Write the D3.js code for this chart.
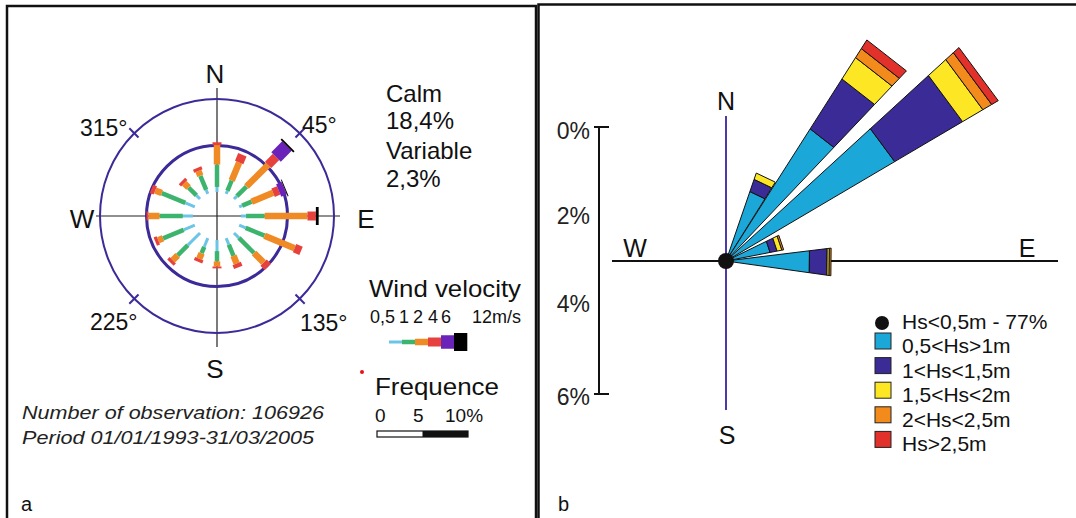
<!DOCTYPE html>
<html><head><meta charset="utf-8">
<script src="https://cdn.jsdelivr.net/npm/d3@7"></script>
<style>
html,body{margin:0;padding:0;background:#fff;}
svg{display:block;font-family:"Liberation Sans",Arial,sans-serif;}
</style></head><body>
<svg id="chart" width="1076" height="518"></svg>
<script>
// ---------- Panel a: wind rose (frequency % per speed class, 16 directions) ----------
const windDirections = [0, 22.5, 45, 67.5, 90, 112.5, 135, 157.5, 180, 202.5, 225, 247.5, 270, 292.5, 315, 337.5];
const wind05to1 = [0.55, 0.35, 0.45, 0.35, 0.55, 0.75, 0.75, 0.75, 1.20, 1.00, 1.85, 1.30, 1.10, 1.10, 0.55, 0.45];
const wind1to2  = [2.40, 1.20, 1.45, 1.10, 2.00, 2.20, 2.30, 1.30, 1.10, 0.75, 1.55, 2.40, 2.50, 2.75, 1.20, 1.65];
const wind2to4  = [2.10, 2.10, 3.30, 2.50, 4.60, 3.50, 1.45, 0.90, 0.55, 0.65, 0.75, 0.55, 1.20, 0.75, 0.65, 0.55];
const wind4to6  = [0.30, 0.90, 1.20, 0.65, 0.90, 0.75, 0.65, 0.45, 0.20, 0.35, 0.35, 0.35, 0.20, 0.45, 0.35, 0.35];
const wind6to12 = [0, 0, 1.65, 0.65, 0, 0, 0, 0, 0, 0, 0, 0, 0, 0, 0, 0];
const wind12up  = [0, 0, 0.20, 0.10, 0.30, 0, 0, 0, 0, 0, 0, 0, 0, 0, 0, 0];
const speedTickLabels = ["0,5", "1", "2", "4", "6", "12m/s"];
const compassLabels = ["N", "E", "S", "W"];
const degreeLabels = ["45°", "135°", "225°", "315°"];
const freqTickLabels = ["0", "5", "10%"];
const calmLines = ["Calm", "18,4%", "Variable", "2,3%"];
const noteLines = ["Number of observation: 106926", "Period 01/01/1993-31/03/2005"];

// ---------- Panel b: wave rose (frequency % per Hs class) ----------
const petalFrom = [19, 32.5, 47.5, 64, 83];     // sector start bearing (deg)
const petalTo   = [32, 43.5, 59.5, 79, 98];     // sector end bearing (deg)
const hs05to1   = [1.65, 3.52, 4.40, 1.01, 1.89];
const hs1to15   = [0.29, 1.33, 1.77, 0.16, 0.40];
const hs15to2   = [0.15, 0.57, 0.53, 0.11, 0.05];
const hs2to25   = [0.00, 0.24, 0.23, 0.04, 0.04];
const hsAbove25 = [0.00, 0.23, 0.17, 0.00, 0.00];
const hsLegend = ["Hs<0,5m - 77%", "0,5<Hs>1m", "1<Hs<1,5m", "1,5<Hs<2m", "2<Hs<2,5m", "Hs>2,5m"];
const pctTicks = [0, 2, 4, 6];

const svg = d3.select("#chart");
const rad = d => d * Math.PI / 180;

// panel frames
svg.append("rect").attr("x", 7).attr("y", 6).attr("width", 529).attr("height", 530)
  .attr("fill", "none").attr("stroke", "#111").attr("stroke-width", 2.5);
svg.append("rect").attr("x", 538.5).attr("y", 4.5).attr("width", 560).attr("height", 530)
  .attr("fill", "none").attr("stroke", "#111").attr("stroke-width", 2.5);

// ===== Panel a =====
const speedSeries = [wind05to1, wind1to2, wind2to4, wind4to6, wind6to12, wind12up];
const speedColors = ["#6cc5e6", "#3cb46e", "#f08a24", "#e6413c", "#6b22b8", "#000000"];
const speedWidth = d3.scaleOrdinal().domain(d3.range(6)).range([3, 4.5, 6.5, 9, 13.5, 18]);
const rA = d3.scaleLinear().domain([0, 10]).range([24, 117]);
const ga = svg.append("g").attr("transform", "translate(217,216)");
const indigo = "#3b2a98";

// cross hair
ga.append("line").attr("x1", 0).attr("x2", 0).attr("y1", -128).attr("y2", 131).attr("stroke", "#222").attr("stroke-width", 1.2);
ga.append("line").attr("x1", -121).attr("x2", 123).attr("y1", 0).attr("y2", 0).attr("stroke", "#222").attr("stroke-width", 1.2);
// 5% and 10% rings
ga.append("circle").attr("r", rA(5)).attr("fill", "none").attr("stroke", indigo).attr("stroke-width", 3);
ga.append("circle").attr("r", rA(10)).attr("fill", "none").attr("stroke", indigo).attr("stroke-width", 2);
[45, 135, 225, 315].forEach(a => {
  const p0 = d3.pointRadial(rad(a), rA(10) - 6), p1 = d3.pointRadial(rad(a), rA(10) + 7);
  ga.append("line").attr("x1", p0[0]).attr("y1", p0[1]).attr("x2", p1[0]).attr("y2", p1[1])
    .attr("stroke", indigo).attr("stroke-width", 2);
});

// stacked speed bars
windDirections.forEach((dir, i) => {
  let cum = 0;
  speedSeries.forEach((s, k) => {
    const v = s[i];
    if (v <= 0) return;
    const p0 = d3.pointRadial(rad(dir), rA(cum)), p1 = d3.pointRadial(rad(dir), rA(cum + v));
    ga.append("line").attr("x1", p0[0]).attr("y1", p0[1]).attr("x2", p1[0]).attr("y2", p1[1])
      .attr("stroke", speedColors[k]).attr("stroke-width", speedWidth(k)).attr("stroke-linecap", "butt");
    cum += v;
  });
});

// compass letters
const compassPos = {N: [215, 83], E: [366, 228], S: [215, 378], W: [82, 228]};
compassLabels.forEach(c => {
  svg.append("text").attr("x", compassPos[c][0]).attr("y", compassPos[c][1]).attr("text-anchor", "middle")
    .attr("font-size", 26).attr("fill", "#111").text(c);
});
const degPos = {"45°": [302, 133], "135°": [300, 331], "225°": [90, 330], "315°": [80, 136]};
degreeLabels.forEach(t => {
  svg.append("text").attr("x", degPos[t][0]).attr("y", degPos[t][1]).attr("font-size", 23).attr("fill", "#111").text(t);
});
calmLines.forEach((t, i) => {
  svg.append("text").attr("x", 386).attr("y", [102, 129, 159, 187][i]).attr("font-size", 24).attr("fill", "#111").text(t);
});

// wind velocity legend
svg.append("text").attr("x", 369).attr("y", 297).attr("font-size", 24).attr("textLength", 152)
  .attr("lengthAdjust", "spacingAndGlyphs").attr("fill", "#111").text("Wind velocity");
[370, 399, 413, 428, 441, 472].forEach((x, i) => {
  svg.append("text").attr("x", x).attr("y", 323).attr("font-size", 18).attr("fill", "#111").text(speedTickLabels[i]);
});
const legX = d3.scaleBand().domain(d3.range(6)).range([389, 467]);
speedColors.forEach((c, k) => {
  svg.append("rect").attr("x", legX(k)).attr("width", legX.bandwidth() + 0.3)
    .attr("y", 342 - speedWidth(k) / 2).attr("height", speedWidth(k)).attr("fill", c);
});
svg.append("circle").attr("cx", 362).attr("cy", 372).attr("r", 2).attr("fill", "#e8101a");

// frequency scale legend
svg.append("text").attr("x", 375).attr("y", 395).attr("font-size", 24).attr("textLength", 124)
  .attr("lengthAdjust", "spacingAndGlyphs").attr("fill", "#111").text("Frequence");
const fScale = d3.scaleLinear().domain([0, 10]).range([377, 468]);
[375, 413, 445].forEach((x, i) => {
  svg.append("text").attr("x", x).attr("y", 422).attr("font-size", 19).attr("fill", "#111").text(freqTickLabels[i]);
});
svg.append("rect").attr("x", fScale(0)).attr("y", 431).attr("width", fScale(10) - fScale(0)).attr("height", 6)
  .attr("fill", "#fff").attr("stroke", "#111").attr("stroke-width", 1.2);
svg.append("rect").attr("x", fScale(5)).attr("y", 431).attr("width", fScale(10) - fScale(5)).attr("height", 6).attr("fill", "#111");

noteLines.forEach((t, i) => {
  svg.append("text").attr("x", 22).attr("y", [419, 444][i]).attr("font-size", 19).attr("font-style", "italic")
    .attr("textLength", [302, 292][i]).attr("lengthAdjust", "spacingAndGlyphs").attr("fill", "#222").text(t);
});
svg.append("text").attr("x", 21).attr("y", 511).attr("font-size", 20).attr("fill", "#111").text("a");

// ===== Panel b =====
const cx = 726, cy = 261;
const rB = d3.scaleLinear().domain([0, 6]).range([0, 267]);
const hsSeries = [hs05to1, hs1to15, hs15to2, hs2to25, hsAbove25];
const hsColors = ["#1ba8d8", "#3a2b96", "#fde725", "#f28b1c", "#e2302a"];

// axes cross
svg.append("line").attr("x1", 612).attr("x2", 1058).attr("y1", cy).attr("y2", cy).attr("stroke", "#111").attr("stroke-width", 2);
svg.append("line").attr("x1", cx).attr("x2", cx).attr("y1", 116).attr("y2", 410).attr("stroke", "#4b3aa8").attr("stroke-width", 2);

const gb = svg.append("g").attr("transform", `translate(${cx},${cy})`);
const petalPath = d3.lineRadial().angle(d => d[0]).radius(d => d[1]);
hsSeries[0].forEach((_, p) => {
  let cum = 0;
  const a0 = rad(petalFrom[p]), a1 = rad(petalTo[p]);
  hsSeries.forEach((s, k) => {
    const v = s[p];
    if (v <= 0) return;
    const r0 = rB(cum), r1 = rB(cum + v);
    gb.append("path")
      .attr("d", petalPath([[a0, r0], [a0, r1], [a1, r1], [a1, r0]]) + "Z")
      .attr("fill", hsColors[k]).attr("stroke", "#111").attr("stroke-width", 1).attr("stroke-linejoin", "miter");
    cum += v;
  });
});
gb.append("circle").attr("r", 8).attr("fill", "#111");

// percentage scale bar
const yPct = d3.scaleLinear().domain([0, 6]).range([127, 394]);
svg.append("line").attr("x1", 599).attr("x2", 599).attr("y1", yPct(0)).attr("y2", yPct(6)).attr("stroke", "#111").attr("stroke-width", 2);
[0, 6].forEach(v => {
  svg.append("line").attr("x1", 594).attr("x2", 609).attr("y1", yPct(v)).attr("y2", yPct(v)).attr("stroke", "#111").attr("stroke-width", 2);
});
pctTicks.forEach((v, i) => {
  svg.append("text").attr("x", 590).attr("y", yPct(v) + [4, 0, -1, 3][i]).attr("dy", "0.35em")
    .attr("text-anchor", "end").attr("font-size", 23).attr("fill", "#222").text(v + "%");
});

// compass letters
[["N", 726, 110], ["S", 727, 444], ["W", 635, 257], ["E", 1027, 257]].forEach(([t, x, y]) => {
  svg.append("text").attr("x", x).attr("y", y).attr("text-anchor", "middle").attr("font-size", 25).attr("fill", "#111").text(t);
});

// Hs legend
svg.append("circle").attr("cx", 882).attr("cy", 323).attr("r", 7).attr("fill", "#111");
hsColors.forEach((c, k) => {
  svg.append("rect").attr("x", 875).attr("y", 333 + k * 24.6).attr("width", 16).attr("height", 16)
    .attr("fill", c).attr("stroke", "#222").attr("stroke-width", 1);
});
hsLegend.forEach((t, i) => {
  svg.append("text").attr("x", 902).attr("y", 329 + i * 24.4).attr("font-size", 21).attr("fill", "#111").text(t);
});
svg.append("text").attr("x", 558).attr("y", 511).attr("font-size", 20).attr("fill", "#111").text("b");
</script>
</body></html>
